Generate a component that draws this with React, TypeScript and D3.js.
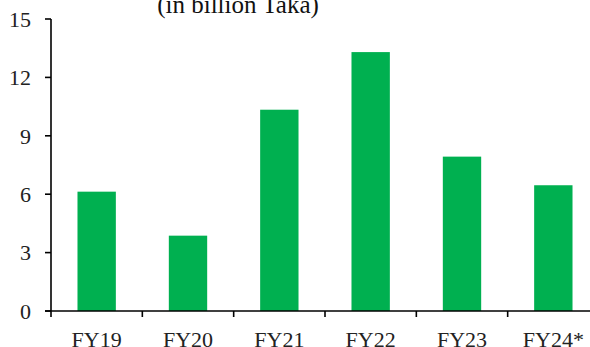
import React from "react";
import * as d3 from "d3";

const categories = ["FY19", "FY20", "FY21", "FY22", "FY23", "FY24*"];
const values = [6.13, 3.87, 10.34, 13.3, 7.93, 6.46];
const yTicks = [0, 3, 6, 9, 12, 15];
const title = "(in billion Taka)";

const W = 590;
const H = 347;
const left = 51;
const right = 599;
const top = 19;
const bottom = 311;
const FONT = "'Liberation Serif', 'Times New Roman', serif";

export default function App() {
  const x = d3
    .scaleBand<string>()
    .domain(categories)
    .range([left, right])
    .paddingInner(0.58)
    .paddingOuter(0.29);
  const y = d3.scaleLinear().domain([0, 15]).range([bottom, top]);
  const step = x.step();
  const boundaries = d3.range(categories.length + 1).map((i) => left + i * step);

  return (
    <svg
      width={W}
      height={H}
      style={{ position: "absolute", left: 0, top: 0, background: "#fff" }}
    >
      <text
        x={238}
        y={13}
        textAnchor="middle"
        fontFamily={FONT}
        fontSize={25}
        fill="#111"
      >
        {title}
      </text>
      {categories.map((c, i) => (
        <rect
          key={c}
          x={x(c)}
          y={y(values[i])}
          width={x.bandwidth()}
          height={y(0) - y(values[i])}
          fill="#00B050"
        />
      ))}
      <line x1={left} x2={left} y1={top} y2={bottom} stroke="#000" strokeWidth={1.6} />
      {yTicks.map((t) => (
        <g key={t}>
          <line x1={left - 6} x2={left} y1={y(t)} y2={y(t)} stroke="#000" strokeWidth={1.6} />
          <text
            x={31}
            y={y(t)}
            dy="0.35em"
            textAnchor="end"
            fontFamily={FONT}
            fontSize={22}
            fill="#222"
          >
            {t}
          </text>
        </g>
      ))}
      <line x1={left - 6} x2={W} y1={bottom} y2={bottom} stroke="#000" strokeWidth={1.6} />
      {boundaries.map((b, i) => (
        <line key={i} x1={b} x2={b} y1={bottom} y2={bottom + 6} stroke="#000" strokeWidth={1.6} />
      ))}
      {categories.map((c) => (
        <text
          key={c}
          x={(x(c) as number) + x.bandwidth() / 2}
          y={347}
          textAnchor="middle"
          fontFamily={FONT}
          fontSize={22}
          fill="#222"
        >
          {c}
        </text>
      ))}
    </svg>
  );
}
